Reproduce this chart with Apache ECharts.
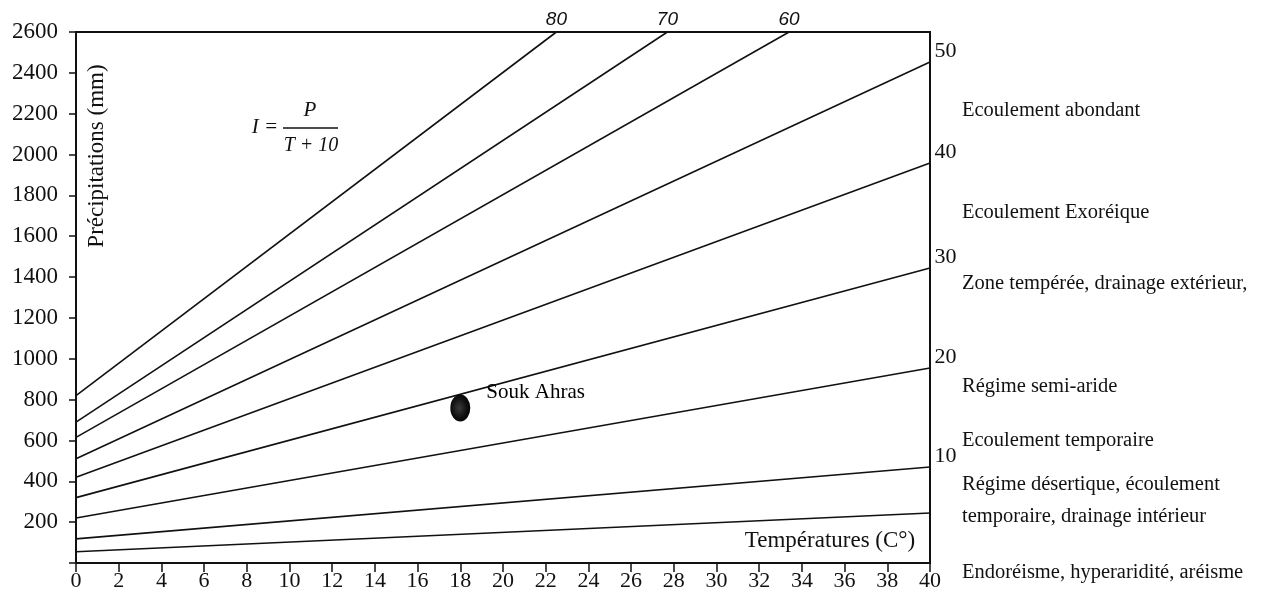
<!DOCTYPE html>
<html>
<head>
<meta charset="utf-8">
<script src="https://cdn.jsdelivr.net/npm/echarts@6/dist/echarts.min.js"></script>
<style>html,body{margin:0;padding:0;background:#fff;}#c{width:1262px;height:595px;}</style>
</head>
<body>
<div id="c"></div>
<script>
// Iso-index lines of the De Martonne aridity index
const indexLabels = ['80', '70', '60', '50', '40', '30', '20', '10', '5'];
const startT = [0, 0, 0, 0, 0, 0, 0, 0, 0];
const startP = [820, 690, 615, 510, 420, 320, 220, 118, 55];
const endT = [22.5, 27.7, 33.4, 40, 40, 40, 40, 40, 40];
const endP = [2600, 2600, 2600, 2453, 1959, 1444, 955, 470, 245];
const labelAtTop = [true, true, true, false, false, false, false, false, null];

// Station
const stationNames = ['Souk Ahras'];
const stationT = [18.0];
const stationP = [759];

// Zone descriptions (right side)
const zoneNotes = [
  'Ecoulement abondant',
  'Ecoulement Exoréique',
  'Zone tempérée, drainage extérieur,',
  'Régime semi-aride',
  'Ecoulement temporaire',
  'Régime désertique, écoulement',
  'temporaire, drainage intérieur',
  'Endoréisme, hyperaridité, aréisme'
];

const serif = '"Liberation Serif", "DejaVu Serif", serif';
const chart = echarts.init(document.getElementById('c'), null, {renderer: 'canvas'});

const lineSeries = indexLabels.map((name, i) => {
  const s = {
    type: 'line',
    name: name,
    data: [[startT[i], startP[i]], [endT[i], endP[i]]],
    showSymbol: false,
    symbol: 'none',
    silent: true,
    animation: false,
    lineStyle: {color: '#111', width: 1.6},
    z: 3
  };
  if (labelAtTop[i] !== null) {
    s.markPoint = {
      symbol: 'circle',
      symbolSize: 1,
      itemStyle: {color: 'rgba(0,0,0,0)'},
      animation: false,
      data: [{
        coord: [endT[i], endP[i]],
        label: labelAtTop[i]
          ? {show: true, formatter: name, position: 'top', distance: 2,
             fontFamily: '"Liberation Sans", Arial, sans-serif', fontStyle: 'italic', fontSize: 19, color: '#111'}
          : {show: true, formatter: name, position: 'right', distance: 4, offset: [0, -11],
             fontFamily: serif, fontSize: 22, color: '#111'}
      }]
    };
  }
  return s;
});

const noteTops = [111, 213, 284, 387, 441, 485, 517, 573];

const option = {
  backgroundColor: '#fff',
  animation: false,
  grid: {left: 76, right: 332, top: 32, bottom: 32, show: true, borderColor: '#111', borderWidth: 2, backgroundColor: 'transparent'},
  xAxis: {
    type: 'value', min: 0, max: 40, interval: 2,
    axisLine: {show: true, lineStyle: {color: '#111', width: 2}},
    axisTick: {show: true, inside: false, length: 9, lineStyle: {color: '#111', width: 1.5}},
    axisLabel: {margin: 7, fontFamily: serif, fontSize: 22, color: '#111'},
    splitLine: {show: false}
  },
  yAxis: {
    type: 'value', min: 0, max: 2600, interval: 200,
    axisLine: {show: true, lineStyle: {color: '#111', width: 2}},
    axisTick: {show: true, inside: false, length: 7, lineStyle: {color: '#111', width: 1.5}},
    axisLabel: {margin: 18, fontFamily: serif, fontSize: 23, color: '#111', padding: [0, 0, 12, 0],
      formatter: v => (v === 0 ? '' : String(v))},
    splitLine: {show: false}
  },
  graphic: [
    {type: 'text', x: 97, y: 156, rotation: Math.PI / 2,
     style: {text: 'Précipitations (mm)', fontFamily: serif, fontSize: 23, fill: '#111', align: 'center', verticalAlign: 'middle'}},
    {type: 'text', x: 830, y: 541,
     style: {text: 'Températures (C°)', fontFamily: serif, fontSize: 23, fill: '#111', align: 'center', verticalAlign: 'middle'}},
    // formula I = P / (T + 10)
    {type: 'text', x: 265, y: 127,
     style: {text: 'I =', fontFamily: serif, fontStyle: 'italic', fontSize: 21, fill: '#111', align: 'center', verticalAlign: 'middle'}},
    {type: 'text', x: 310, y: 110,
     style: {text: 'P', fontFamily: serif, fontStyle: 'italic', fontSize: 21, fill: '#111', align: 'center', verticalAlign: 'middle'}},
    {type: 'line', shape: {x1: 283, y1: 128, x2: 338, y2: 128}, style: {stroke: '#111', lineWidth: 1.5}},
    {type: 'text', x: 311, y: 146,
     style: {text: 'T + 10', fontFamily: serif, fontStyle: 'italic', fontSize: 20, fill: '#111', align: 'center', verticalAlign: 'middle'}}
  ].concat(zoneNotes.map((t, i) => ({
    type: 'text', x: 962, y: noteTops[i],
    style: {text: t, fontFamily: serif, fontSize: 20.5, fill: '#111', align: 'left', verticalAlign: 'middle'}
  }))),
  series: lineSeries.concat([{
    type: 'scatter',
    data: stationT.map((t, i) => ({value: [t, stationP[i]], name: stationNames[i]})),
    symbol: 'circle',
    symbolSize: [20, 27],
    itemStyle: {
      opacity: 1,
      color: {type: 'radial', x: 0.45, y: 0.5, r: 0.6,
        colorStops: [{offset: 0, color: '#3a3a3a'}, {offset: 0.6, color: '#111'}, {offset: 1, color: '#000'}]}
    },
    label: {show: true, formatter: p => p.name, position: 'right', distance: 16, offset: [0, -16],
      fontFamily: serif, fontSize: 21, color: '#000', opacity: 1},
    emphasis: {disabled: true},
    z: 5
  }])
};
chart.setOption(option);
</script>
</body>
</html>
